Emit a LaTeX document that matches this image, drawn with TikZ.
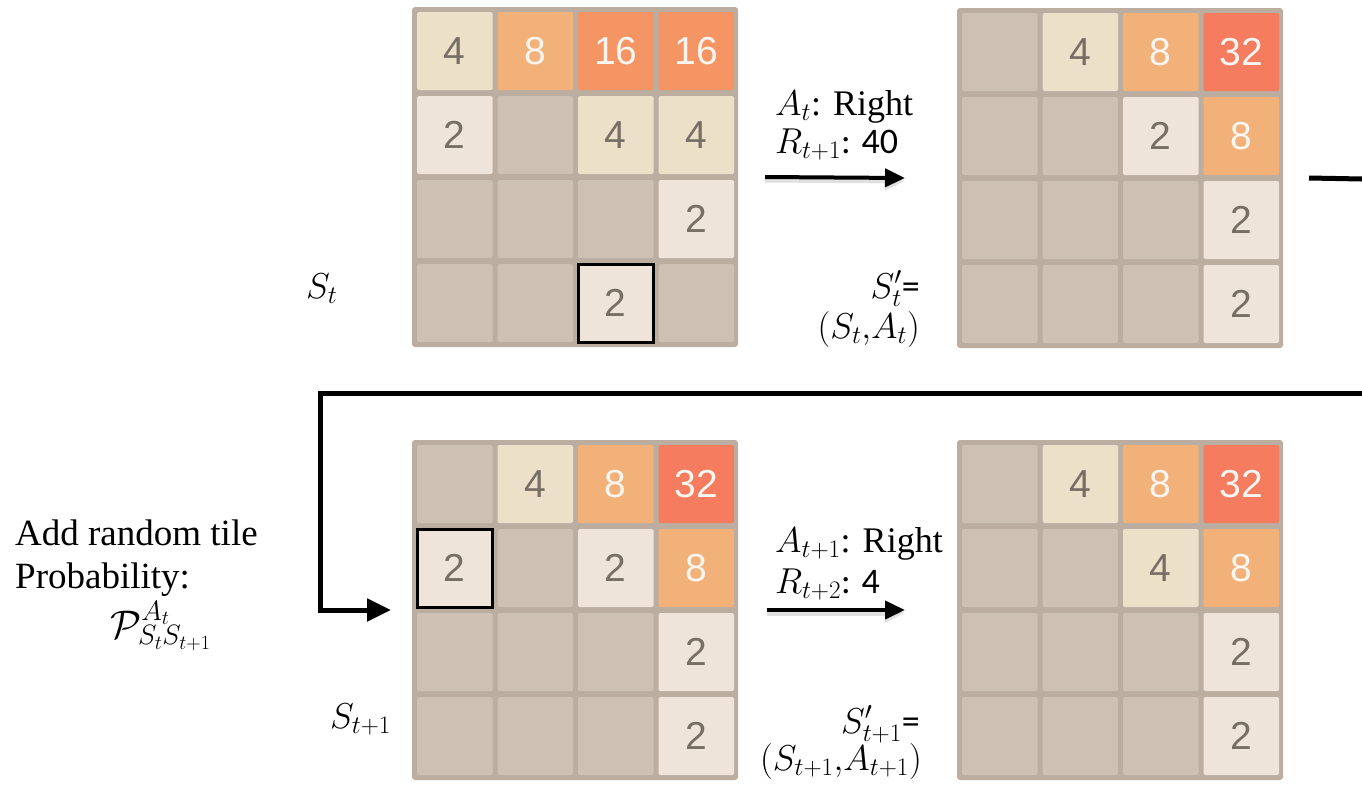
\RequirePackage{fix-cm}
\documentclass[tikz,border=0pt]{standalone}
\usepackage{fontspec}
\setmainfont{Liberation Serif}
\newfontfamily\tilefont{Liberation Sans}
\newfontfamily\numfont{Carlito}
\usetikzlibrary{arrows.meta,calc}

\definecolor{boardbg}{HTML}{BBADA0}
\definecolor{tile0}{HTML}{CDC1B4}
\definecolor{tile2}{HTML}{EEE4DA}
\definecolor{tile4}{HTML}{EDE0C8}
\definecolor{tile8}{HTML}{F2B179}
\definecolor{tile16}{HTML}{F59563}
\definecolor{tile32}{HTML}{F67C5F}
\definecolor{darkink}{HTML}{776E65}
\definecolor{lightink}{HTML}{F9F6F2}
\colorlet{ink0}{darkink}
\colorlet{ink2}{darkink}
\colorlet{ink4}{darkink}
\colorlet{ink8}{lightink}
\colorlet{ink16}{lightink}
\colorlet{ink32}{lightink}

% one 4x4 board: name, left, top, the 16 values row by row (0 = empty)
\newcommand{\gameboard}[4]{%
  \node[board, anchor=north west] (#1) at (#2,#3) {};
  \foreach \val [count=\k from 0] in {#4} {
    \pgfmathtruncatemacro\col{mod(\k,4)}
    \pgfmathtruncatemacro\row{div(\k,4)}
    \node[tile, fill=tile\val, text=ink\val, anchor=north west] (#1-\row-\col)
      at ($(#1.north west)+({5+80.5*\col},{5+84*\row})$) {\ifnum\val>0 \val\fi};
  }
}

\begin{document}
\begin{tikzpicture}[x=1pt, y=-1pt,
  board/.style={fill=boardbg, rounded corners=3pt, inner sep=0, outer sep=0,
    minimum width=326pt, minimum height=340pt},
  tile/.style={rounded corners=1.5pt, inner sep=0, outer sep=0,
    minimum width=75.5pt, minimum height=78pt,
    font=\tilefont\fontsize{39}{39}\selectfont},
  hlbox/.style={draw=black, line width=3pt},
  lbl/.style={inner sep=0, font=\fontsize{36}{42}\selectfont},
  stepline/.style={line width=4pt, -{Triangle[length=20pt,width=18pt]},
    preaction={draw=black!12, line width=5pt, transform canvas={yshift=-3pt}}},
  loopline/.style={line width=5pt}]
\useasboundingbox (0,0) rectangle (1362,785);

% boards
\gameboard{TL}{412}{7}{4,8,16,16, 2,0,4,4, 0,0,0,2, 0,0,2,0}
\gameboard{TR}{957}{8}{0,4,8,32, 0,0,2,8, 0,0,0,2, 0,0,0,2}
\gameboard{BL}{412}{440}{0,4,8,32, 2,0,2,8, 0,0,0,2, 0,0,0,2}
\gameboard{BR}{957}{440}{0,4,8,32, 0,0,4,8, 0,0,0,2, 0,0,0,2}

% new tiles
\draw[hlbox] (TL-3-2.north west) rectangle (TL-3-2.south east);
\draw[hlbox] (BL-1-0.north west) rectangle (BL-1-0.south east);

% top row labels
\node[lbl, anchor=base west] (stateT) at (306,298) {$S_t$};
\node[lbl, anchor=base west] (actT) at (775,115) {$A_t$: Right};
\node[lbl, anchor=base west] (rewT) at (775,153) {$R_{t+1}${\numfont: 40}};
\node[lbl, anchor=base east] (afterT) at (920,298) {$S_t'${\numfont=}};
\node[lbl, anchor=base east] (pairT) at (920,338) {$(S_t{,}A_t)$};
\draw[stepline] ([xshift=27pt]TL.east) -- ([xshift=-52pt]TR.west);

% bottom row labels
\node[lbl, anchor=base west] (stateB) at (330,728) {$S_{t+1}$};
\node[lbl, anchor=base west] (actB) at (775,552) {$A_{t+1}$: Right};
\node[lbl, anchor=base west] (rewB) at (775,593) {$R_{t+2}${\numfont: 4}};
\node[lbl, anchor=base east] (afterB) at (920,733) {$S_{t+1}'${\numfont=}};
\node[lbl, anchor=base east] (pairB) at (922,770) {$(S_{t+1}{,}A_{t+1})$};
\draw[stepline] ([xshift=29pt]BL.east) -- ([xshift=-52pt]BR.west);

% random tile
\node[lbl, anchor=base west, align=left, font=\fontsize{37}{43}\selectfont]
  (addT) at (15,588) {Add random tile\\Probability:};
\node[lbl, anchor=base west, font=\fontsize{40}{44}\selectfont] (probT)
  at (110,638) {$\mathcal{P}^{A_t}_{S_tS_{t+1}}$};

% loop back
\coordinate (exitR) at (1362,179);
\coordinate (backR) at (1362,393);
\coordinate (bend) at (320,393);
\draw[loopline] ([xshift=26pt]TR.east) -- (exitR);
\draw[loopline, -{Triangle[length=24pt,width=22pt]}] (backR) -- (bend)
  |- ([xshift=-26pt,yshift=-3pt]BL-1-0.south west);
\end{tikzpicture}
\end{document}
